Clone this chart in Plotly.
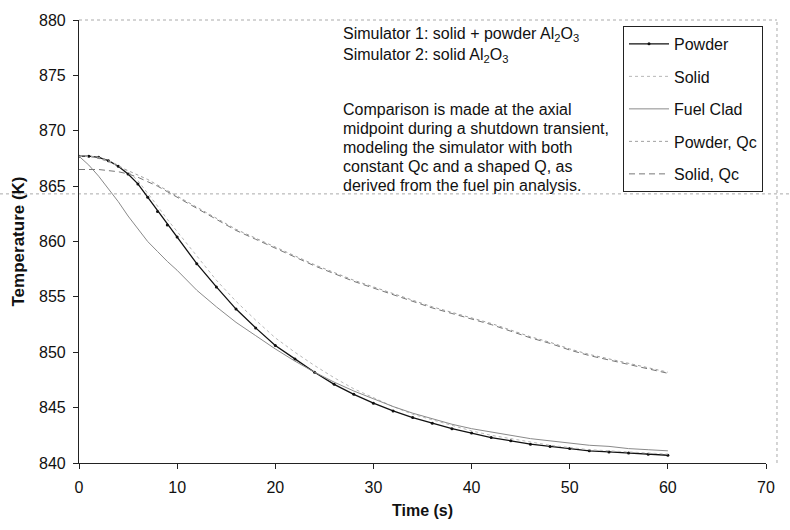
import plotly.graph_objects as go

# ---- data ----
time_s = [0, 1, 2, 3, 4, 5, 6, 7, 8, 9, 10, 12, 14, 16, 18, 20, 22, 24, 26, 28, 30,
          32, 34, 36, 38, 40, 42, 44, 46, 48, 50, 52, 54, 56, 58, 60]

powder = [867.7, 867.7, 867.6, 867.3, 866.8, 866.1, 865.2, 864.0, 862.7, 861.5, 860.4,
          858.0, 855.9, 853.9, 852.2, 850.6, 849.4, 848.2, 847.1, 846.2, 845.4,
          844.7, 844.1, 843.6, 843.1, 842.7, 842.3, 842.0, 841.7, 841.5, 841.3,
          841.1, 841.0, 840.9, 840.8, 840.7]

solid = [867.7, 867.7, 867.6, 867.3, 866.9, 866.3, 865.5, 864.4, 863.2, 862.0, 860.9,
         858.6, 856.5, 854.6, 852.9, 851.3, 850.0, 848.8, 847.7, 846.7, 845.9,
         845.1, 844.4, 843.9, 843.4, 842.9, 842.5, 842.2, 841.9, 841.6, 841.4,
         841.2, 841.1, 841.0, 840.9, 840.8]

fuel_clad = [867.7, 866.9, 865.9, 864.8, 863.6, 862.3, 861.1, 860.0, 859.1, 858.2, 857.4,
             855.6, 854.1, 852.7, 851.5, 850.3, 849.2, 848.2, 847.3, 846.5, 845.8,
             845.1, 844.5, 844.0, 843.5, 843.1, 842.8, 842.5, 842.2, 842.0, 841.8,
             841.6, 841.5, 841.3, 841.2, 841.1]

powder_qc = [867.7, 867.7, 867.5, 867.2, 866.8, 866.4, 866.0, 865.6, 865.1, 864.6, 864.1,
             863.1, 862.1, 861.1, 860.3, 859.5, 858.7, 857.9, 857.2, 856.5, 855.9,
             855.3, 854.7, 854.1, 853.6, 853.1, 852.6, 852.0, 851.4, 850.9, 850.3,
             849.8, 849.4, 849.0, 848.6, 848.2]

solid_qc = [866.5, 866.5, 866.5, 866.4, 866.3, 866.1, 865.8, 865.4, 865.0, 864.5, 864.0,
            863.0, 862.0, 861.0, 860.2, 859.4, 858.6, 857.8, 857.1, 856.4, 855.8,
            855.2, 854.6, 854.0, 853.5, 853.0, 852.5, 851.9, 851.3, 850.8, 850.2,
            849.7, 849.3, 848.9, 848.5, 848.1]

x_ticks = [0, 10, 20, 30, 40, 50, 60, 70]
y_ticks = [840, 845, 850, 855, 860, 865, 870, 875, 880]

FONT = "Liberation Sans, Arial, sans-serif"
FS = 16

fig = go.Figure()
fig.add_trace(go.Scatter(x=time_s, y=powder, name="Powder", mode="lines+markers",
                         line=dict(color="#111111", width=1.3),
                         marker=dict(size=3, color="#111111"), legendgroup="a"))
fig.add_trace(go.Scatter(x=time_s, y=solid, name="Solid", mode="lines",
                         line=dict(color="#b8b8b8", width=1, dash="dot"), legendgroup="b"))
fig.add_trace(go.Scatter(x=time_s, y=fuel_clad, name="Fuel Clad", mode="lines",
                         line=dict(color="#8a8a8a", width=1), legendgroup="c"))
fig.add_trace(go.Scatter(x=time_s, y=powder_qc, name="Powder, Qc", mode="lines",
                         line=dict(color="#a0a0a0", width=1, dash="dot"), legendgroup="d"))
fig.add_trace(go.Scatter(x=time_s, y=solid_qc, name="Solid, Qc", mode="lines",
                         line=dict(color="#777777", width=1, dash="6px,4px"), legendgroup="e"))

# plot-area border (dotted) and scan line
fig.add_shape(type="line", xref="paper", yref="paper", x0=0, x1=1.016, y0=1, y1=1,
              line=dict(color="#aaaaaa", width=1, dash="dot"))
fig.add_shape(type="line", xref="paper", yref="paper", x0=1.016, x1=1.016, y0=0, y1=1,
              line=dict(color="#aaaaaa", width=1, dash="dot"))
fig.add_shape(type="line", xref="paper", yref="y", x0=-0.115, x1=1.035, y0=864.3, y1=864.3,
              line=dict(color="#aaaaaa", width=1, dash="dot"), layer="below")

txt = dict(family=FONT, size=FS, color="#111111")
lines = [
    ("Simulator 1: solid + powder Al<sub>2</sub>O<sub>3</sub>", 33),
    ("Simulator 2: solid Al<sub>2</sub>O<sub>3</sub>", 54),
    ("Comparison is made at the axial", 108),
    ("midpoint during a shutdown transient,", 127),
    ("modeling the simulator with both", 146),
    ("constant Qc and a shaped Q, as", 165),
    ("derived from the fuel pin analysis.", 184),
]
for t, py in lines:
    fig.add_annotation(text=t, xref="paper", yref="paper",
                       x=(341 - 79) / 687, y=(463 - py) / 445,
                       xanchor="left", yanchor="middle", showarrow=False, font=txt)

fig.update_layout(
    width=790, height=530,
    margin=dict(l=79, r=24, t=18, b=67),
    paper_bgcolor="white", plot_bgcolor="white",
    font=dict(family=FONT, size=FS, color="#111111"),
    showlegend=True,
    legend=dict(x=(623 - 79) / 687, y=(463 - 24) / 445, xanchor="left", yanchor="top",
                bgcolor="white", bordercolor="#222222", borderwidth=1,
                font=dict(family=FONT, size=FS, color="#111111"),
                traceorder="grouped", tracegroupgap=8.7, itemwidth=40),
    xaxis=dict(range=[0, 70], tickvals=x_ticks, showgrid=False, zeroline=False,
               showline=True, linecolor="#222222", linewidth=1.2,
               ticks="outside", ticklen=5, tickcolor="#222222", ticklabelstandoff=5,
               tickfont=dict(family=FONT, size=FS, color="#111111"),
               title=dict(text="<b>Time (s)</b>", font=dict(family=FONT, size=16), standoff=9)),
    yaxis=dict(range=[840, 880], tickvals=y_ticks, showgrid=False, zeroline=False,
               showline=True, linecolor="#222222", linewidth=1.2,
               ticks="outside", ticklen=5, tickcolor="#222222", ticklabelstandoff=4,
               tickfont=dict(family=FONT, size=FS, color="#111111"),
               title=dict(text="<b>Temperature (K)</b>", font=dict(family=FONT, size=17), standoff=10)),
)

fig.write_html("out.html")
